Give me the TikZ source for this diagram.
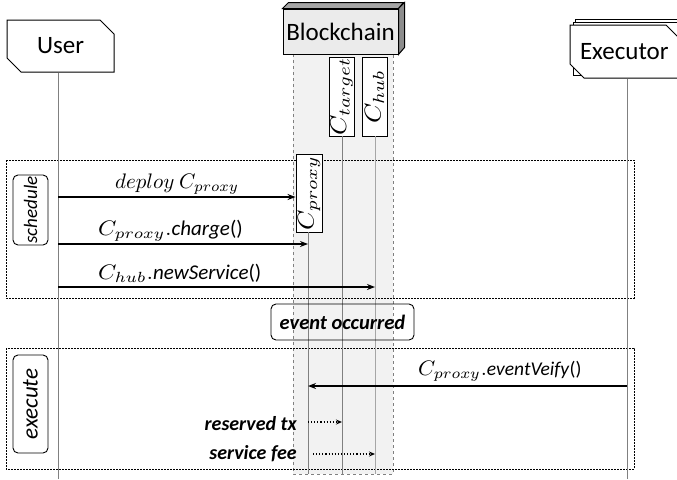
\documentclass[tikz,border=0pt]{standalone}
\usepackage{fontspec}
\setmainfont{Carlito}
\usetikzlibrary{arrows.meta,shapes.misc}
\definecolor{regiongray}{HTML}{F2F2F2}
\definecolor{boxgray}{HTML}{EBEBEB}
\definecolor{lifegray}{HTML}{808080}
\newcommand\mth[2][2.35]{{\fontsize{10}{12}\selectfont\scalebox{#1}[2.1]{$#2$}}}
\newcommand\rmth[1]{{\fontsize{10}{12}\selectfont\scalebox{2.6}[2.3]{$#1$}}}
\begin{document}
\begin{tikzpicture}[x=1pt,y=-1pt,
  actor/.style={chamfered rectangle, chamfered rectangle corners={north east,south west},
    chamfered rectangle xsep=7pt, chamfered rectangle ysep=7pt, draw, line width=1pt,
    fill=white, inner sep=0pt, font=\fontsize{25}{28}\selectfont},
  lifeline/.style={draw=lifegray, line width=0.7pt},
  msg/.style={line width=1.3pt, -{Stealth[length=8pt,width=6pt]}},
  dmsg/.style={line width=1.1pt, dotted, -{Stealth[length=6pt,width=5pt]}},
  frame/.style={draw, line width=0.7pt, dash pattern=on 2pt off 1pt},
  tag/.style={draw, rounded corners=5pt, line width=0.9pt, inner sep=0pt, rotate=90,
    minimum height=35pt},
  ctr/.style={draw, line width=0.9pt, fill=white, inner sep=0pt, rotate=90},
  lbl/.style={font=\fontsize{21}{23}\selectfont, inner sep=0pt},
  blbl/.style={font=\fontsize{20}{22}\selectfont\bfseries\itshape, inner sep=0pt}
]
\useasboundingbox (0,0) rectangle (677,479);
\clip (0,0) rectangle (677,479);

% blockchain region
\draw[fill=regiongray, draw=lifegray, dashed, line width=0.6pt] (293,54) rectangle (393,474);

% frames
\draw[frame] (6,160) rectangle (634,298);
\draw[frame] (6,348) rectangle (634,469);

% actors
\node[actor, minimum width=107pt, minimum height=52pt] (user) at (60.5,46) {User};
\node[actor, minimum width=108pt, minimum height=53pt] (ex3) at (629,45.5) {};
\node[actor, minimum width=108pt, minimum height=53pt] (ex2) at (627,48.5) {};
\node[actor, minimum width=108pt, minimum height=53pt, text width=96pt, align=left] (ex) at (625,51.5) {\hspace*{3pt}Executor};

% blockchain 3D box
\node[draw, line width=1pt, fill=boxgray, minimum width=115pt, minimum height=45pt,
  inner sep=0pt, font=\fontsize{25}{28}\selectfont] (bc) at (340.5,31.5) {Blockchain};
\draw[line width=1pt, fill=lifegray!70] (bc.north west) -- ++(6,-6) -- ++(115,0) -- (bc.north east) -- cycle;
\draw[line width=1pt, fill=lifegray!90] (bc.north east) -- ++(6,-6) -- ++(0,45) -- (bc.south east) -- cycle;

% contract boxes
\node[ctr, minimum width=79pt, minimum height=25pt] (ctarget) at (341.5,96.5) {\rmth{C_{target}}};
\node[ctr, minimum width=79pt, minimum height=25pt] (chub) at (374.5,96.5) {\rmth{C_{hub}}};
\node[ctr, minimum width=78pt, minimum height=26pt] (cproxy) at (309,193) {\rmth{C_{proxy}}};

% lifelines
\coordinate (userend) at (58,479);
\coordinate (exend) at (627,479);
\coordinate (proxyend) at (308,474);
\coordinate (targetend) at (342,474);
\coordinate (hubend) at (375,474);
\draw[lifeline] (user.south -| userend) -- (userend);
\draw[lifeline] (ex.south -| exend) -- (exend);
\draw[lifeline] (cproxy.west -| proxyend) -- (proxyend);
\draw[lifeline] (ctarget.west -| targetend) -- (targetend);
\draw[lifeline, draw=lifegray!70] (chub.west -| hubend) -- (hubend);

% tags
\node[tag, minimum width=70pt, font=\fontsize{19}{22}\selectfont\itshape] (sched) at (30.5,210) {schedule};
\node[tag, minimum width=98pt, font=\fontsize{23}{26}\selectfont\itshape] (exec) at (30.5,404) {execute};

% messages
\coordinate (u1) at (58,197);
\coordinate (u2) at (58,244);
\coordinate (u3) at (58,287);
\coordinate (p2) at (308,244);
\coordinate (h3) at (375,287);
\draw[msg] (u1) -- (cproxy.north |- u1);
\node[lbl, anchor=base west] (t1) at (115,188) {\mth[2.1]{deploy\ C_{proxy}}};
\draw[msg] (u2) -- (p2);
\node[lbl, anchor=base west] (t2) at (98,235) {\mth{C_{proxy}.}\textit{charge}()};
\draw[msg] (u3) -- (h3);
\node[lbl, anchor=base west] (t3) at (98,279) {\mth{C_{hub}.}\textit{newService}()};

\node[draw, rounded corners=5pt, line width=0.9pt, minimum width=143pt, minimum height=36pt,
  inner sep=0pt, font=\fontsize{20.5}{22}\selectfont\bfseries\itshape] (ev) at (342.5,322) {event occurred};

\coordinate (e4) at (627,386);
\coordinate (p4) at (308,386);
\draw[msg] (e4) -- (p4);
\node[lbl, anchor=base west, font=\fontsize{19.5}{22}\selectfont] (t4) at (418,375) {\mth[2.2]{C_{proxy}.}\textit{eventVeify}()};

\coordinate (p5) at (308,422);
\coordinate (g5) at (342,422);
\draw[dmsg] (p5) -- (g5);
\node[blbl, anchor=base east] (t5) at (297,430) {reserved tx};
\coordinate (p6) at (313,454);
\coordinate (h6) at (375,454);
\draw[dmsg] (p6) -- (h6);
\node[blbl, anchor=base east] (t6) at (297,459) {service fee};
\end{tikzpicture}
\end{document}
